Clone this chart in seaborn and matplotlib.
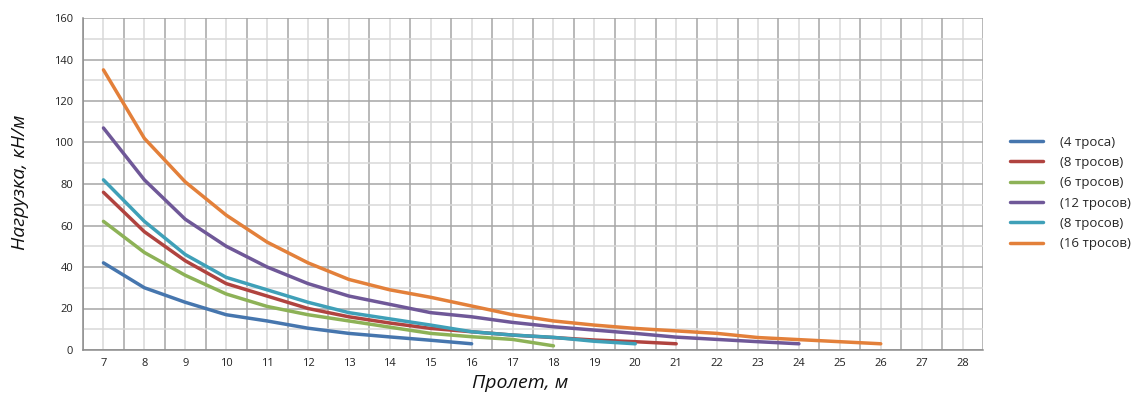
import matplotlib
matplotlib.use("Agg")
import matplotlib.pyplot as plt
import seaborn as sns
import pandas as pd
import numpy as np

# Span, m (category axis)
spans = list(range(7, 29))

# Load curves, kN/m, per span starting at 7 m
load_4 = [42, 30, 23, 17, 14, 10.5, 8, 6.3, 4.7, 3]
load_8a = [76, 57, 43, 32, 26, 20, 16, 13, 10.4, 8.8, 7.2, 6, 4.8, 4, 3]
load_6 = [62, 47, 36, 27, 21, 17, 14, 11, 8, 6.4, 5.1, 2]
load_12 = [107, 82, 63, 50, 40, 32, 26, 22, 18, 16, 13.3, 11.2, 9.6, 8, 6.2, 5.1, 4, 3]
load_8b = [82, 62, 46, 35, 29, 23, 18, 15, 12, 8.8, 7.2, 6.1, 4.2, 3]
load_16 = [135, 102, 81, 65, 52, 42, 34, 29, 25.4, 21.2, 17, 14, 12, 10.4, 9.2, 8, 6, 5, 4, 3]

labels = ["(4 троса)", "(8 тросов)", "(6 тросов)", "(12 тросов)", "(8 тросов)", "(16 тросов)"]
series = [load_4, load_8a, load_6, load_12, load_8b, load_16]
colors = ["#4676AE", "#B0433F", "#8DB257", "#6F5898", "#3FA0B8", "#E3803A"]

sns.set_theme(style="white")
plt.rcParams["font.family"] = ["Open Sans", "DejaVu Sans"]

fig = plt.figure(figsize=(11.33, 3.96), dpi=100)
ax = fig.add_axes([83 / 1133, 46 / 396, 900 / 1133, 332 / 396])

for vals, lab, col in zip(series, labels, colors):
    df = pd.DataFrame({"span": spans[:len(vals)], "load": vals})
    sns.lineplot(data=df, x="span", y="load", ax=ax, color=col, label=lab,
                 linewidth=2.5, sort=False, legend=False)

ax.set_xlim(6.5, 28.5)
ax.set_ylim(0, 160)

# category labels at centers, tick marks at boundaries
ax.set_xticks(spans)
ax.set_xticklabels([str(s) for s in spans], fontsize=8, color="#222222")
ax.set_xticks(np.arange(6.5, 29, 1), minor=True)
ax.set_yticks(np.arange(0, 161, 20))
ax.set_yticklabels([str(v) for v in range(0, 161, 20)], fontsize=8, color="#222222")
ax.set_yticks(np.arange(10, 160, 20), minor=True)

ax.tick_params(axis="x", which="major", length=0, pad=6)
ax.tick_params(axis="x", which="minor", length=4, width=1, color="#8c8c8c", direction="out")
ax.tick_params(axis="y", which="major", length=4, width=1, color="#8c8c8c", direction="out", pad=3)
ax.tick_params(axis="y", which="minor", length=0)

ax.grid(False)
# boundary lines (dark) and center lines (light)
ax.xaxis.grid(True, which="minor", color="#a6a6a6", linewidth=1.1)
ax.xaxis.grid(True, which="major", color="#d9d9d9", linewidth=1.1)
ax.yaxis.grid(True, which="major", color="#a6a6a6", linewidth=1.1)
ax.yaxis.grid(True, which="minor", color="#d9d9d9", linewidth=1.1)
ax.set_axisbelow(True)

for side in ["top", "right"]:
    ax.spines[side].set_visible(False)
for side in ["left", "bottom"]:
    ax.spines[side].set_color("#8c8c8c")
    ax.spines[side].set_linewidth(1.1)

ax.set_xlabel("")
ax.set_ylabel("")
fig.text(520 / 1133, 1 - 383 / 396, "Пролет, м", ha="center", va="center",
         fontsize=14, style="italic", color="#111111")
fig.text(20 / 1133, 1 - 182 / 396, "Нагрузка, кН/м", ha="center", va="center",
         fontsize=14, style="italic", rotation=90, color="#111111")

handles, labs = ax.get_legend_handles_labels()
fig.legend(handles, labs, loc="center left", bbox_to_anchor=(998 / 1133, 1 - 193 / 396),
           frameon=False, fontsize=9.5, handlelength=2.5, handletextpad=1.3,
           labelspacing=0.55)

fig.savefig("out.png", dpi=100)
